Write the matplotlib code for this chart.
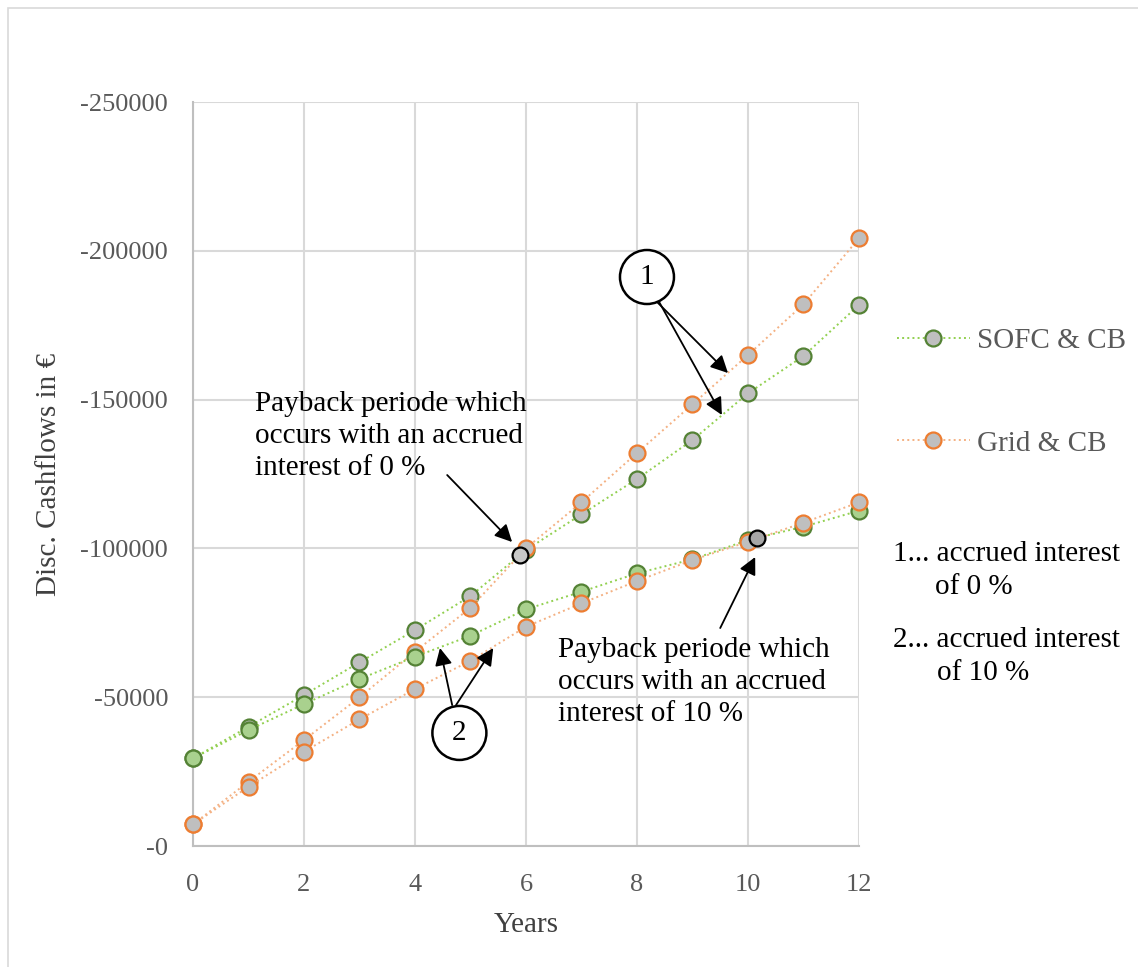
import matplotlib
matplotlib.use('Agg')
import matplotlib.pyplot as plt
from matplotlib.lines import Line2D
from matplotlib.patches import Rectangle
from matplotlib.ticker import FuncFormatter, MultipleLocator

plt.rcParams['font.family'] = ['Liberation Serif', 'DejaVu Serif']

years = list(range(13))

# discounted cashflows, accrued interest 0 %
sofc_0 = [29470, 40090, 50740, 61730, 72580, 84000, 99460, 111460, 123320, 136420, 152120, 164650, 181790]
grid_0 = [7290, 21610, 35620, 49970, 65290, 80070, 100030, 115490, 132060, 148420, 164990, 182020, 204200]

# discounted cashflows, accrued interest 10 %
sofc_10 = [29470, 38980, 47710, 56120, 63610, 70670, 79540, 85450, 91630, 96340, 102820, 107290, 112670]
grid_10 = [7290, 19930, 31690, 42570, 52760, 62270, 73690, 81550, 89050, 96100, 102250, 108640, 115490]

# payback points
payback_x = [5.89, 10.16]
payback_y = [97780, 103590]

GREEN_EDGE = '#548235'
GREEN_LINE = '#92d050'
GREEN_FILL = '#a9d18e'
ORANGE_EDGE = '#ed7d31'
ORANGE_LINE = '#f4b183'
GRAY_FILL = '#bfbfbf'
TEXT_GRAY = '#595959'


def main():
    fig = plt.figure(figsize=(11.38, 9.67), dpi=100)
    ax = fig.add_axes([0.1696, 0.1251, 0.5852, 0.7694])

    # chart border
    fig.patches.append(Rectangle((8 / 1138, -0.01), 1.0, 1.0 - 8 / 967 + 0.01, transform=fig.transFigure,
                                 fill=False, edgecolor='#d9d9d9', linewidth=1.2))

    mk = dict(marker='o', markersize=11.5, markeredgewidth=1.6, linestyle=':', linewidth=1.4)
    ax.plot(years, sofc_0, color=GREEN_LINE, markerfacecolor=GRAY_FILL, markeredgecolor=GREEN_EDGE,
            zorder=3, clip_on=False, **mk)
    ax.plot(years, grid_0, color=ORANGE_LINE, markerfacecolor=GRAY_FILL, markeredgecolor=ORANGE_EDGE,
            zorder=4, clip_on=False, **mk)
    ax.plot(years, sofc_10, color=GREEN_LINE, markerfacecolor=GREEN_FILL, markeredgecolor=GREEN_EDGE,
            zorder=5, clip_on=False, **mk)
    ax.plot(years, grid_10, color=ORANGE_LINE, markerfacecolor=GRAY_FILL, markeredgecolor=ORANGE_EDGE,
            zorder=6, clip_on=False, **mk)

    ax.scatter(payback_x[:1], payback_y[:1], s=130, facecolor='#c8c8c8', edgecolor='black', linewidth=1.6, zorder=8)
    ax.scatter(payback_x[1:], payback_y[1:], s=130, facecolor='#a6a6a6', edgecolor='black', linewidth=1.6, zorder=8)

    ax.set_xlim(0, 12)
    ax.set_ylim(0, 250000)
    ax.xaxis.set_major_locator(MultipleLocator(2))
    ax.yaxis.set_major_locator(MultipleLocator(50000))
    ax.yaxis.set_major_formatter(FuncFormatter(lambda v, p: f'-{int(v)}'))
    ax.grid(True, color='#d9d9d9', linewidth=1.5)
    ax.set_axisbelow(True)
    for side in ['top', 'right']:
        ax.spines[side].set_visible(False)
    for side in ['left', 'bottom']:
        ax.spines[side].set_color('#bfbfbf')
        ax.spines[side].set_linewidth(1.5)
    ax.tick_params(length=0, labelsize=19, labelcolor=TEXT_GRAY)
    ax.tick_params(axis='x', pad=20)
    ax.tick_params(axis='y', pad=18)

    ax.set_xlabel('Years', fontsize=21, color='#404040', labelpad=12)
    ax.set_ylabel('Disc. Cashflows in €', fontsize=21, color='#404040', labelpad=13)

    arrow = dict(arrowstyle='-|>', color='black', lw=1.3, mutation_scale=26, shrinkA=0, shrinkB=0)

    # payback notes
    ax.text(1.12, 137770, 'Payback periode which\noccurs with an accrued\ninterest of 0 %',
            fontsize=21, ha='left', va='center', linespacing=1.32, zorder=10)
    ax.annotate('', xy=(5.75, 102150), xytext=(4.58, 124660), arrowprops=arrow, zorder=10)
    ax.text(6.58, 55110, 'Payback periode which\noccurs with an accrued\ninterest of 10 %',
            fontsize=21, ha='left', va='center', linespacing=1.32, zorder=10)
    ax.annotate('', xy=(10.13, 97110), xytext=(9.50, 73250), arrowprops=arrow, zorder=10)

    # circled markers
    circ = dict(boxstyle='circle,pad=0.48', facecolor='white', edgecolor='black', linewidth=1.8)
    ax.text(8.18, 191200, '1', fontsize=21, ha='center', va='center', bbox=circ, zorder=10)
    ax.annotate('', xy=(9.64, 158940), xytext=(8.29, 184140), arrowprops=arrow, zorder=9)
    ax.annotate('', xy=(9.53, 144830), xytext=(8.36, 184140), arrowprops=arrow, zorder=9)
    ax.text(4.80, 38000, '2', fontsize=21, ha='center', va='center', bbox=circ, zorder=10)
    ax.annotate('', xy=(4.45, 66530), xytext=(4.67, 47380), arrowprops=arrow, zorder=9)
    ax.annotate('', xy=(5.41, 66530), xytext=(4.74, 47380), arrowprops=arrow, zorder=9)

    # legend
    handles = [
        Line2D([], [], color=GREEN_LINE, markerfacecolor=GRAY_FILL, markeredgecolor=GREEN_EDGE, **mk),
        Line2D([], [], color=ORANGE_LINE, markerfacecolor=GRAY_FILL, markeredgecolor=ORANGE_EDGE, **mk),
    ]
    leg = fig.legend(handles, ['SOFC & CB', 'Grid & CB'], loc='upper left', bbox_to_anchor=(0.765, 0.688),
                     frameon=False, fontsize=21, labelspacing=2.6, handlelength=2.5, handletextpad=0.25)
    for t in leg.get_texts():
        t.set_color(TEXT_GRAY)

    fig.text(893 / 1138, 1 - 554 / 967, '1... accrued interest', fontsize=21, va='center')
    fig.text(935 / 1138, 1 - 587 / 967, 'of 0 %', fontsize=21, va='center')
    fig.text(893 / 1138, 1 - 640 / 967, '2... accrued interest', fontsize=21, va='center')
    fig.text(937 / 1138, 1 - 673 / 967, 'of 10 %', fontsize=21, va='center')

    fig.savefig('out.png', dpi=100)


if __name__ == '__main__':
    main()
